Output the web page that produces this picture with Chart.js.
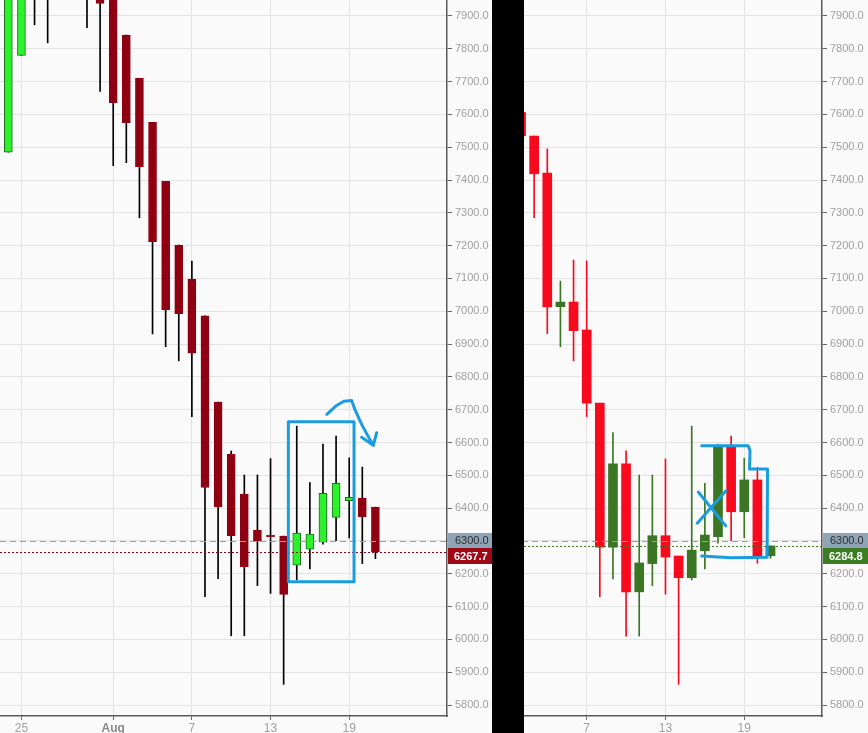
<!DOCTYPE html>
<html>
<head>
<meta charset="utf-8">
<script src="https://cdn.jsdelivr.net/npm/chart.js@4.4.1/dist/chart.umd.min.js"></script>
<style>
html,body{margin:0;padding:0;background:#fafafa;}
#wrap{position:relative;width:868px;height:733px;overflow:hidden;background:#fafafa;}
#c1{position:absolute;left:0;top:0;}
#c2{position:absolute;left:492px;top:0;}
#black{position:absolute;left:492px;top:0;width:32px;height:733px;background:#000;}
</style>
</head>
<body>
<div id="wrap">
  <canvas id="c1" width="492" height="733"></canvas>
  <canvas id="c2" width="376" height="733"></canvas>
  <div id="black"></div>
</div>
<script>
// ---- data (day index: 0 = Aug 1) ----
const yTicks = [5800,5900,6000,6100,6200,6300,6400,6500,6600,6700,6800,6900,7000,7100,7200,7300,7400,7500,7600,7700,7800,7900];
const leftXTicks = [-7, 0, 6, 12, 18];
const leftXLabels = ['25', 'Aug', '7', '13', '19'];
const rightXTicks = [6, 12, 18];
const rightXLabels = ['7', '13', '19'];

const leftDays  = [-8,-7,-6,-5,-4,-3,-2,-1,0,1,2,3,4,5,6,7,8,9,10,11,12,13,14,15,16,17,18,19,20];
const leftOpen  = [7485,7780,8180,8120,8200,8220,8200,8170,7960,7842,7710,7576,7396,7202,7097,6986,6723,6564,6443,6333,6316,6315,6226,6275,6296,6372,6423,6431,6403];
const leftHigh  = [8180,8250,8260,8260,8250,8280,8260,8190,8000,7842,7710,7576,7396,7202,7153,6986,6723,6574,6501,6501,6551,6315,6650,6478,6595,6620,6553,6525,6403];
const leftLow   = [7485,7780,7873,7818,8050,8100,7864,7670,7444,7453,7285,6931,6892,6849,6679,6130,6185,6011,6011,6164,6140,5863,6181,6215,6290,6301,6309,6231,6246];
const leftClose = [8120,8200,8120,8200,8220,8200,8170,7938,7636,7575,7441,7212,7005,6993,6872,6463,6404,6316,6222,6301,6312,6137,6324,6321,6445,6476,6433,6374,6267.7];

const rightDays  = [1,2,3,4,5,6,7,8,9,10,11,12,13,14,15,16,17,18,19,20];
const rightOpen  = [7606,7534,7421,7014,7028,6943,6720,6281,6535,6145,6231,6316,6254,6188,6270,6313,6587,6389,6486,6255];
const rightHigh  = [7640,7534,7495,7092,7156,7153,6720,6630,6575,6501,6501,6550,6254,6650,6476,6595,6620,6552,6524,6285];
const rightLow   = [7535,7285,6932,6892,6849,6679,6130,6184,6010,6010,6164,6138,5863,6181,6215,6293,6301,6310,6232,6247];
const rightClose = [7535,7419,7013,7028,6941,6720,6281,6535,6145,6233,6316,6251,6188,6272,6318,6587,6389,6486,6255,6284.8];

const refPrice = 6300;
// hand-drawn marks, in (day, price) coordinates
const leftMarks = [
  [[13.36,6663],[18.37,6663],[18.37,6175.5],[13.36,6175.5],[13.36,6663]],
  [[16.29,6686],[17.0,6712],[17.6,6726],[18.19,6728],[18.44,6700],[18.98,6653],[19.59,6608],[19.84,6592]],
  [[18.95,6616],[19.84,6592],[20.1,6630]]
];
const rightMarks = [
  [[14.5,6449],[16.59,6346]],
  [[14.42,6354],[16.59,6452]],
  [[14.76,6590],[18.3,6590],[18.44,6575],[18.4,6519],[19.77,6519],[19.74,6250],[17.0,6249],[14.76,6254]]
];

const FONT = '"Liberation Sans", Arial, sans-serif';

const overlay = {
  id: 'overlay',
  afterDatasetsDraw(chart, args, o) {
    const {ctx, chartArea: a, scales: {x, y}} = chart;
    ctx.save();
    ctx.beginPath(); ctx.rect(a.left, a.top, a.right - a.left + 6, a.bottom - a.top); ctx.clip();
    ctx.lineWidth = 1;
    const yr = Math.round(y.getPixelForValue(o.refPrice)) + 0.5;
    ctx.strokeStyle = '#8fa3b5'; ctx.setLineDash([6, 4]);
    ctx.beginPath(); ctx.moveTo(a.left, yr); ctx.lineTo(a.right + 6, yr); ctx.stroke();
    const yl = Math.round(y.getPixelForValue(o.lastPrice)) + 0.5;
    ctx.strokeStyle = o.lastLine; ctx.setLineDash([2, 2]);
    ctx.beginPath(); ctx.moveTo(a.left, yl); ctx.lineTo(a.right + 6, yl); ctx.stroke();
    ctx.setLineDash([]);
    ctx.strokeStyle = '#1a9de0'; ctx.lineWidth = 3; ctx.lineCap = 'round'; ctx.lineJoin = 'round';
    for (const path of o.marks) {
      ctx.beginPath();
      path.forEach(([d, v], i) => {
        const px = x.getPixelForValue(d), py = y.getPixelForValue(v);
        if (i) ctx.lineTo(px, py); else ctx.moveTo(px, py);
      });
      ctx.stroke();
    }
    ctx.restore();
  },
  afterDraw(chart, args, o) {
    const {ctx, chartArea: a, scales: {y}} = chart;
    ctx.save();
    const xr = a.right + 1, w = chart.width - xr;
    const yc = y.getPixelForValue(o.refPrice);
    const t1 = Math.round(yc - 8);
    ctx.fillStyle = '#8fa4b6'; ctx.fillRect(xr, t1, w, 15);
    ctx.fillStyle = '#2e2e2e'; ctx.font = '11px ' + FONT;
    ctx.textBaseline = 'middle'; ctx.textAlign = 'left';
    ctx.fillText(o.refPrice.toFixed(1), a.right + 8, t1 + 8);
    const t2 = t1 + 15;
    ctx.fillStyle = o.tagColor; ctx.fillRect(xr, t2, w, 16);
    ctx.fillStyle = '#ffffff'; ctx.font = 'bold 11px ' + FONT;
    ctx.fillText(o.lastPrice.toFixed(1), a.right + 7, t2 + 8.5);
    ctx.restore();
  }
};

function isAug(c, xTicks, xLabels) {
  return !!(c && c.tick && xLabels[xTicks.indexOf(c.tick.value)] === 'Aug');
}

function makeChart(id, days, op, hi, lo, cl, xTicks, xLabels, xmin, xmax, axisW, sty) {
  const bodies = days.map((d, i) => ({x: d, y: [op[i], cl[i]]}));
  const wicks = days.map((d, i) => ({x: d, y: [lo[i], hi[i]]}));
  const up = days.map((d, i) => cl[i] >= op[i]);
  return new Chart(document.getElementById(id), {
    type: 'bar',
    data: {
      datasets: [
        {
          data: bodies,
          backgroundColor: up.map(u => u ? sty.upFill : sty.downFill),
          borderColor: up.map(u => u ? sty.upBorder : sty.downFill),
          borderWidth: sty.bodyBorder,
          borderSkipped: false,
          barThickness: sty.bodyW,
          minBarLength: 2,
          grouped: false
        },
        {
          data: wicks,
          backgroundColor: up.map(u => u ? sty.upWick : sty.downWick),
          borderWidth: 0,
          barThickness: 1,
          grouped: false
        }
      ]
    },
    options: {
      responsive: false,
      animation: false,
      events: [],
      layout: {padding: 0},
      plugins: {
        legend: {display: false},
        tooltip: {enabled: false},
        overlay: {refPrice: refPrice, lastPrice: cl[cl.length - 1], lastLine: sty.lastLine, tagColor: sty.tag, marks: sty.marks}
      },
      scales: {
        x: {
          type: 'linear', min: xmin, max: xmax, offset: false,
          afterBuildTicks: s => { s.ticks = xTicks.map(v => ({value: v})); },
          afterFit: s => { s.height = 17; s.paddingLeft = 0; s.paddingRight = 0; },
          ticks: {
            autoSkip: false, maxRotation: 0, padding: 1,
            color: c => (isAug(c, xTicks, xLabels) ? '#8a8a8a' : '#a0a0a0'),
            font: c => ({family: FONT, size: 12, weight: (isAug(c, xTicks, xLabels) ? 'bold' : 'normal')}),
            callback: v => { const k = xTicks.indexOf(v); return k >= 0 ? xLabels[k] : ''; }
          },
          grid: {offset: false, color: '#e3e3e3', lineWidth: 1, tickLength: 4, tickColor: '#666'},
          border: {color: '#5a5a5a', width: 1.5}
        },
        y: {
          type: 'linear', position: 'right', min: 5766.5, max: 7948.7,
          afterBuildTicks: s => { s.ticks = yTicks.map(v => ({value: v})); },
          afterFit: s => { s.width = axisW; s.paddingTop = 0; s.paddingBottom = 0; },
          ticks: {
            padding: 3, color: '#a0a0a0',
            font: {family: FONT, size: 11},
            callback: v => Number(v).toFixed(1)
          },
          grid: {offset: false, color: '#e3e3e3', lineWidth: 1, tickLength: 5, tickColor: '#666'},
          border: {color: '#5a5a5a', width: 1.5}
        }
      }
    },
    plugins: [overlay]
  });
}

makeChart('c1', leftDays, leftOpen, leftHigh, leftLow, leftClose, leftXTicks, leftXLabels, -8.635, 25.46, 45, {
  upFill: '#2cf22c', upBorder: '#1f6e1f', downFill: '#8e0012', bodyBorder: 1, bodyW: 8,
  upWick: '#000000', downWick: '#000000', lastLine: '#8e0012', tag: '#a00815', marks: leftMarks
});
makeChart('c2', rightDays, rightOpen, rightHigh, rightLow, rightClose, rightXTicks, rightXLabels, -1.21, 23.92, 46, {
  upFill: '#3b7624', upBorder: '#3b7624', downFill: '#f70a1e', bodyBorder: 0, bodyW: 9,
  upWick: '#3b7624', downWick: '#f70a1e', lastLine: '#3b7624', tag: '#3b7e22', marks: rightMarks
});
</script>
</body>
</html>
